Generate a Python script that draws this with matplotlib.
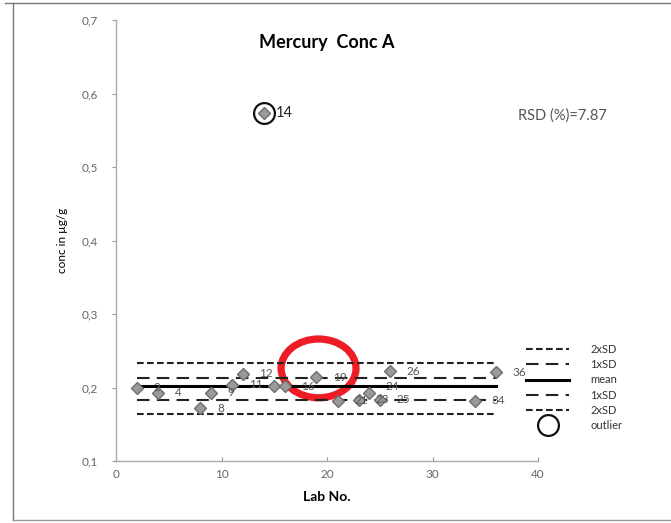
import numpy as np
import matplotlib.pyplot as plt
from matplotlib.lines import Line2D
from matplotlib.patches import Ellipse
from matplotlib.ticker import FuncFormatter

plt.rcParams['font.family'] = ['Lato', 'DejaVu Sans']

# lab results (Hg, sample A)
labs = [2, 4, 8, 9, 11, 12, 14, 15, 16, 19, 21, 23, 24, 25, 26, 34, 36]
conc = [0.200, 0.193, 0.172, 0.193, 0.204, 0.219, 0.574, 0.202, 0.202,
        0.214, 0.182, 0.183, 0.192, 0.183, 0.222, 0.182, 0.221]
outlier_lab = 14
unlabelled = [15]

# reference lines
mean_val = 0.202
sd1_hi, sd1_lo = 0.213, 0.183
sd2_hi, sd2_lo = 0.234, 0.164
rsd = 7.87

fig = plt.figure(figsize=(6.71, 5.23), dpi=100)
ax = fig.add_axes([116 / 671, 62 / 523, 422 / 671, 441 / 523])

x0, x1 = min(labs), max(labs)
short_dash = (0, (3.2, 1.6))
long_dash = (0, (6, 3.5))
ax.plot([x0, x1], [sd2_hi, sd2_hi], color='#222222', lw=1.5, ls=short_dash, label='2xSD')
ax.plot([x0, x1], [sd1_hi, sd1_hi], color='#222222', lw=1.5, ls=long_dash, label='1xSD')
ax.plot([x0, x1], [mean_val, mean_val], color='black', lw=2.2, label='mean')
ax.plot([x0, x1], [sd1_lo, sd1_lo], color='#222222', lw=1.5, ls=long_dash, label='1xSD')
ax.plot([x0, x1], [sd2_lo, sd2_lo], color='#222222', lw=1.5, ls=short_dash, label='2xSD')

ax.plot(labs, conc, ls='none', marker='D', ms=6.5, mfc='#9a9a9a', mec='#6e6e6e', mew=1.0)

# crowded labels near lab 21-25: lift "24" a little
label_lift = {24: 5}
for lab, c in zip(labs, conc):
    if lab in unlabelled:
        continue
    if lab == outlier_lab:
        ax.annotate(str(lab), (lab, c), xytext=(9, 0), textcoords='offset points',
                    va='center', ha='left', fontsize=10.5, color='#222222')
    else:
        ax.annotate(str(lab), (lab, c), xytext=(12, label_lift.get(lab, 0)),
                    textcoords='offset points', va='center', ha='left',
                    fontsize=8.5, color='#555555')

idx = labs.index(outlier_lab)
ax.plot([outlier_lab], [conc[idx]], ls='none', marker='o', ms=15, mfc='none',
        mec='#111111', mew=1.6, label='outlier')

# red highlight round labs 16-19
ax.add_patch(Ellipse((19.2, 0.226), 7.1, 0.080, fill=False, ec='#ee1c24', lw=5.2))

ax.set_xlim(0, 40)
ax.set_ylim(0.1, 0.7)
ax.set_xticks([0, 10, 20, 30, 40])
ax.set_yticks(np.arange(0.1, 0.71, 0.1))
ax.yaxis.set_major_formatter(FuncFormatter(lambda v, p: f'{v:.1f}'.replace('.', ',')))
ax.tick_params(axis='y', direction='out', length=3, color='#999999', labelsize=8.5,
               labelcolor='#666666', pad=10)
ax.tick_params(axis='x', direction='in', length=3, color='#999999', labelsize=8.5,
               labelcolor='#666666', pad=6)
for side in ['top', 'right']:
    ax.spines[side].set_visible(False)
for side in ['left', 'bottom']:
    ax.spines[side].set_color('#aaaaaa')
    ax.spines[side].set_linewidth(1.0)

ax.set_xlabel('Lab No.', fontsize=10, fontweight='bold', labelpad=8)
ax.set_ylabel('conc in \u00b5g/g', fontsize=8.5, labelpad=10)
ax.text(0.5, 0.95, 'Mercury  Conc A', transform=ax.transAxes, fontsize=13,
        fontweight='bold', ha='center', va='center')
ax.text(42.3, 0.570, f'RSD (%)={rsd}', fontsize=10.5, color='#555555', va='center',
        ha='center', clip_on=False)

handles, lbls = ax.get_legend_handles_labels()
leg = ax.legend(handles, lbls, loc='upper left', bbox_to_anchor=(516 / 671, 1 - 334 / 523),
                bbox_transform=fig.transFigure, frameon=False, fontsize=8,
                handlelength=3.9, handletextpad=1.9, labelspacing=0.38, markerscale=1.0)
for t in leg.get_texts():
    t.set_color('#333333')

# border lines of the page
fig.add_artist(Line2D([5 / 671, 1], [1 - 3 / 523, 1 - 3 / 523], color='#777777', lw=1))
fig.add_artist(Line2D([13 / 671, 13 / 671], [1 - 3 / 523, 3 / 523], color='#777777', lw=1))
fig.add_artist(Line2D([13 / 671, 1], [3 / 523, 3 / 523], color='#999999', lw=1))

fig.savefig('out.png', dpi=100)
